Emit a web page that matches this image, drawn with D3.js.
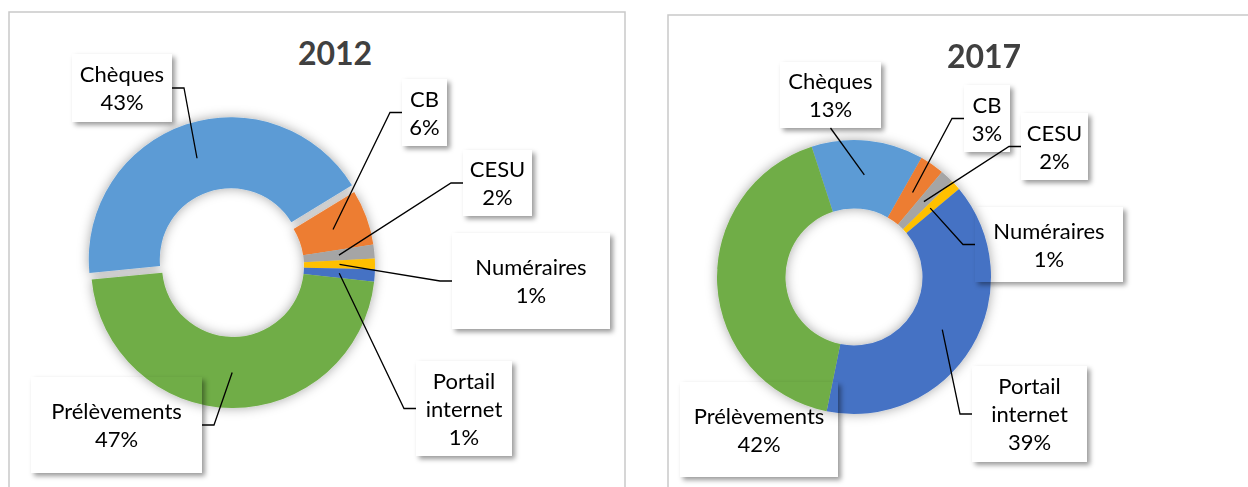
<!DOCTYPE html>
<html>
<head>
<meta charset="utf-8">
<script src="https://cdn.jsdelivr.net/npm/d3@7"></script>
<style>
  body { margin: 0; background: #fff; }
  svg { display: block; font-family: Lato, "Open Sans", sans-serif; }
</style>
</head>
<body>
<div id="chart"></div>
<script>
// data (shares in %)
var categories = ["Chèques", "CB", "CESU", "Numéraires", "Portail internet", "Prélèvements"];
var values2012 = [42.8, 6.3, 1.6, 1.2, 1.4, 46.7];
var values2017 = [13.2, 2.9, 1.6, 1.2, 39.3, 41.8];
var years = ["2012", "2017"];
var colors = ["#5B9BD5", "#ED7D31", "#A5A5A5", "#FFC000", "#4472C4", "#70AD47"];

// layout of the two panels (pixels), label boxes as [x, y, w, h]
var panels = [
  {title: years[0], values: values2012, frame: [9, 12, 616, 500],
   cx: 233, cy: 266, r: 142, start: -95.5, titleX: 335, titleY: 65,
   explode: [0.05, 0, 0, 0, 0, 0],
   boxes: [[72, 54, 100, 68], [402, 79, 45, 67], [463, 150, 69, 66],
           [452, 233, 158, 96], [416, 361, 96, 95], [31, 377, 171, 96]],
   leader: [true, true, true, true, true, true]},
  {title: years[1], values: values2017, frame: [668, 15, 620, 500],
   cx: 854, cy: 277, r: 137, start: -18, titleX: 984, titleY: 68,
   explode: [0, 0, 0, 0, 0, 0],
   boxes: [[780, 62, 101, 66], [964, 85, 46, 67], [1021, 113, 67, 67],
           [975, 207, 148, 75], [972, 366, 115, 96], [680, 382, 158, 95]],
   leader: [true, true, true, true, true, false]}
];

var W = 1248, H = 487;
var lineH = 28, fontSize = 22;
var pct = d3.format(".0%");

var svg = d3.select("#chart").append("svg")
    .attr("width", W)
    .attr("height", H);

var defs = svg.append("defs");
defs.append("filter")
    .attr("id", "ringShadow")
    .attr("x", "-30%").attr("y", "-30%").attr("width", "160%").attr("height", "160%")
  .append("feDropShadow")
    .attr("dx", 0).attr("dy", 0)
    .attr("stdDeviation", 6)
    .attr("flood-color", "#000")
    .attr("flood-opacity", 0.35);
defs.append("filter")
    .attr("id", "boxBlur")
    .attr("x", "-20%").attr("y", "-20%").attr("width", "140%").attr("height", "140%")
  .append("feGaussianBlur")
    .attr("stdDeviation", 2.5);

svg.append("rect").attr("width", W).attr("height", H).attr("fill", "#fff");

panels.forEach(function(p, pi) {
    var g = svg.append("g");
    var total = d3.sum(p.values);

    g.append("rect")
        .attr("x", p.frame[0]).attr("y", p.frame[1])
        .attr("width", p.frame[2]).attr("height", p.frame[3])
        .attr("fill", "#fff")
        .attr("stroke", "#c9c9c9")
        .attr("stroke-width", 1.5);

    g.append("text")
        .attr("x", p.titleX)
        .attr("y", p.titleY)
        .attr("text-anchor", "middle")
        .attr("font-size", "32px")
        .attr("font-weight", "bold")
        .attr("fill", "#404040")
        .text(p.title);

    var a0 = p.start * Math.PI / 180;
    var pie = d3.pie().sort(null).value(function(d) { return d; })
        .startAngle(a0).endAngle(a0 + 2 * Math.PI);
    var arc = d3.arc().innerRadius(p.r * 0.5).outerRadius(p.r);
    var slices = pie(p.values);

    function offset(d, i) {
        var a = (d.startAngle + d.endAngle) / 2, e = p.explode[i] * p.r;
        return [Math.sin(a) * e, -Math.cos(a) * e];
    }

    g.append("g")
        .attr("transform", "translate(" + p.cx + "," + p.cy + ")")
        .attr("filter", "url(#ringShadow)")
      .selectAll("path")
      .data(slices)
      .enter().append("path")
        .attr("d", arc)
        .attr("fill", function(d, i) { return colors[i]; })
        .attr("transform", function(d, i) {
            var o = offset(d, i);
            return "translate(" + o[0] + "," + o[1] + ")";
        });

    // label box shadows, masked so the inside of each box stays clear
    var mask = defs.append("mask").attr("id", "boxMask" + pi)
        .attr("maskUnits", "userSpaceOnUse")
        .attr("x", 0).attr("y", 0).attr("width", W).attr("height", H);
    mask.append("rect").attr("width", W).attr("height", H).attr("fill", "#fff");
    mask.selectAll("rect.hole")
      .data(p.boxes)
      .enter().append("rect")
        .attr("class", "hole")
        .attr("x", function(b) { return b[0]; })
        .attr("y", function(b) { return b[1]; })
        .attr("width", function(b) { return b[2]; })
        .attr("height", function(b) { return b[3]; })
        .attr("fill", "#000");

    g.append("g")
        .attr("mask", "url(#boxMask" + pi + ")")
      .selectAll("rect")
      .data(p.boxes)
      .enter().append("rect")
        .attr("x", function(b) { return b[0] + 3; })
        .attr("y", function(b) { return b[1] + 3; })
        .attr("width", function(b) { return b[2]; })
        .attr("height", function(b) { return b[3]; })
        .attr("fill", "#000")
        .attr("fill-opacity", 0.4)
        .attr("filter", "url(#boxBlur)");

    // leader lines
    slices.forEach(function(d, i) {
        if (!p.leader[i]) return;
        var b = p.boxes[i];
        var c = arc.centroid(d), o = offset(d, i);
        var px = p.cx + c[0] + o[0], py = p.cy + c[1] + o[1];
        var pts;
        if (px >= b[0] && px <= b[0] + b[2]) {
            pts = [[b[0] + b[2] / 2, py < b[1] ? b[1] : b[1] + b[3]], [px, py]];
        } else if (px > b[0] + b[2]) {
            var ym = b[1] + b[3] / 2;
            pts = [[b[0] + b[2], ym], [b[0] + b[2] + 12, ym], [px, py]];
        } else {
            var ym2 = b[1] + b[3] / 2;
            pts = [[b[0], ym2], [b[0] - 12, ym2], [px, py]];
        }
        g.append("path")
            .attr("d", d3.line()(pts))
            .attr("fill", "none")
            .attr("stroke", "#000")
            .attr("stroke-width", 1.3);
    });

    // label texts
    slices.forEach(function(d, i) {
        var b = p.boxes[i];
        var name = categories[i];
        var t = g.append("text")
            .attr("text-anchor", "middle")
            .attr("font-size", fontSize + "px")
            .attr("fill", "#000");
        var probe = t.append("tspan").text(name);
        var lines = [name];
        if (probe.node().getComputedTextLength() > b[2] - 10) lines = name.split(" ");
        probe.remove();
        lines.push(pct(d.value / total));
        var n = lines.length;
        lines.forEach(function(s, k) {
            t.append("tspan")
                .attr("x", b[0] + b[2] / 2)
                .attr("y", b[1] + b[3] / 2 + (k - (n - 1) / 2) * lineH + 8)
                .text(s);
        });
    });
});
</script>
</body>
</html>
